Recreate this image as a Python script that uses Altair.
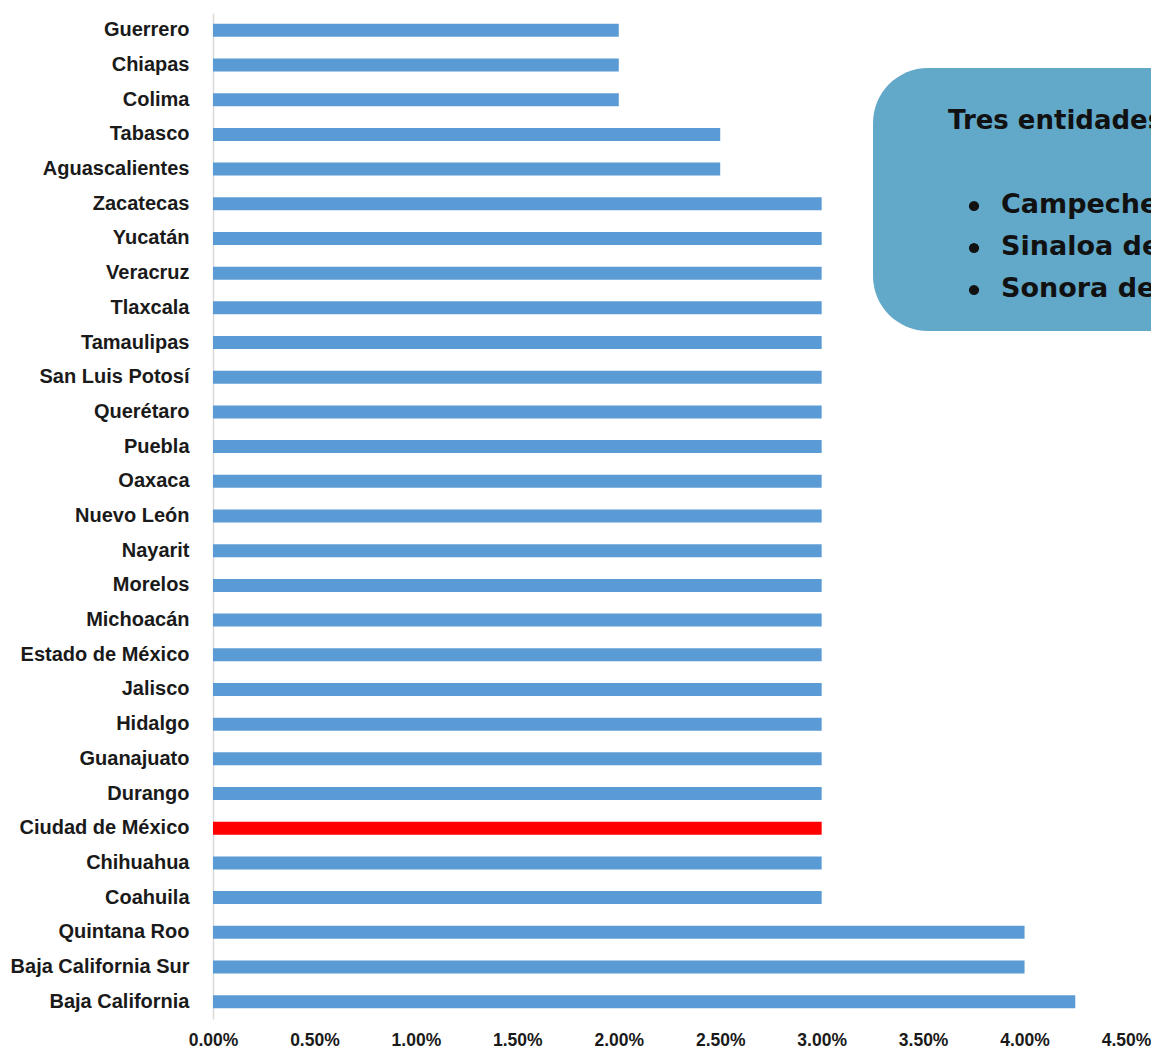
import altair as alt
import pandas as pd

estados = ["Guerrero", "Chiapas", "Colima", "Tabasco", "Aguascalientes", "Zacatecas",
           "Yucatán", "Veracruz", "Tlaxcala", "Tamaulipas", "San Luis Potosí", "Querétaro",
           "Puebla", "Oaxaca", "Nuevo León", "Nayarit", "Morelos", "Michoacán",
           "Estado de México", "Jalisco", "Hidalgo", "Guanajuato", "Durango",
           "Ciudad de México", "Chihuahua", "Coahuila", "Quintana Roo",
           "Baja California Sur", "Baja California"]
valores = [0.02, 0.02, 0.02, 0.025, 0.025, 0.03,
           0.03, 0.03, 0.03, 0.03, 0.03, 0.03,
           0.03, 0.03, 0.03, 0.03, 0.03, 0.03,
           0.03, 0.03, 0.03, 0.03, 0.03,
           0.03, 0.03, 0.03, 0.04,
           0.04, 0.0425]
destacado = "Ciudad de México"
x_ticks = [0, 0.005, 0.01, 0.015, 0.02, 0.025, 0.03, 0.035, 0.04, 0.045]

nota_titulo = "Tres entidades sin información:"
nota_items = ["Campeche del sureste", "Sinaloa del noroeste", "Sonora  del noroeste"]

df = pd.DataFrame({"estado": estados, "valor": valores})
df["color"] = ["#ff0000" if e == destacado else "#5b9bd5" for e in estados]

W, H = 913, 1006
FONT = "Liberation Sans"
NFONT = "DejaVu Sans"

bars = alt.Chart(df).mark_bar(size=13).encode(
    y=alt.Y("estado:N", sort=estados, title=None,
            scale=alt.Scale(paddingInner=0.62, paddingOuter=0.31),
            axis=alt.Axis(labelFont=FONT, labelFontSize=20, labelFontWeight="bold",
                          labelColor="#1a1a1a", labelPadding=24, ticks=False,
                          domainColor="#d9d9d9", domainWidth=1.5, grid=False)),
    x=alt.X("valor:Q", title=None,
            scale=alt.Scale(domain=[0, 0.045], nice=False),
            axis=alt.Axis(values=x_ticks, format=".2%", labelFont=FONT, labelFontSize=17.5,
                          labelFontWeight="bold", labelColor="#1a1a1a", labelPadding=12,
                          ticks=False, domain=False, grid=False, labelFlush=False)),
    color=alt.Color("color:N", scale=None),
)

caja = alt.Chart(pd.DataFrame({"a": [0]})).mark_rect(
    color="#62a8c9", cornerRadius=55, clip=False
).encode(x=alt.value(660), x2=alt.value(1100), y=alt.value(55), y2=alt.value(318))

titulo = alt.Chart(pd.DataFrame({"t": [nota_titulo]})).mark_text(
    align="left", baseline="middle", font=NFONT, fontSize=26, fontWeight="bold",
    color="#111111", clip=False
).encode(text="t:N", x=alt.value(735), y=alt.value(108))

items_df = pd.DataFrame({"t": nota_items, "i": [0, 1, 2]})
puntos = alt.Chart(items_df).mark_circle(
    color="#111111", size=105, opacity=1, clip=False
).encode(x=alt.value(761),
         y=alt.Y("i:O", axis=None, scale=alt.Scale(range=[193, 277], padding=0)))

items = alt.Chart(items_df).mark_text(
    align="left", baseline="middle", font=NFONT, fontSize=27, fontWeight="bold",
    color="#111111", clip=False
).encode(text="t:N",
         x=alt.value(788),
         y=alt.Y("i:O", axis=None, scale=alt.Scale(range=[192, 276], padding=0)))

chart = alt.layer(bars, caja, titulo, puntos, items).resolve_scale(y="independent").properties(
    width=W, height=H,
    autosize=alt.AutoSizeParams(type="none"),
    padding={"left": 205, "top": 5, "right": 25, "bottom": 29},
).configure(background="white").configure_view(strokeWidth=0)

chart.save("out.html", embed_options={"renderer": "svg", "actions": False})
